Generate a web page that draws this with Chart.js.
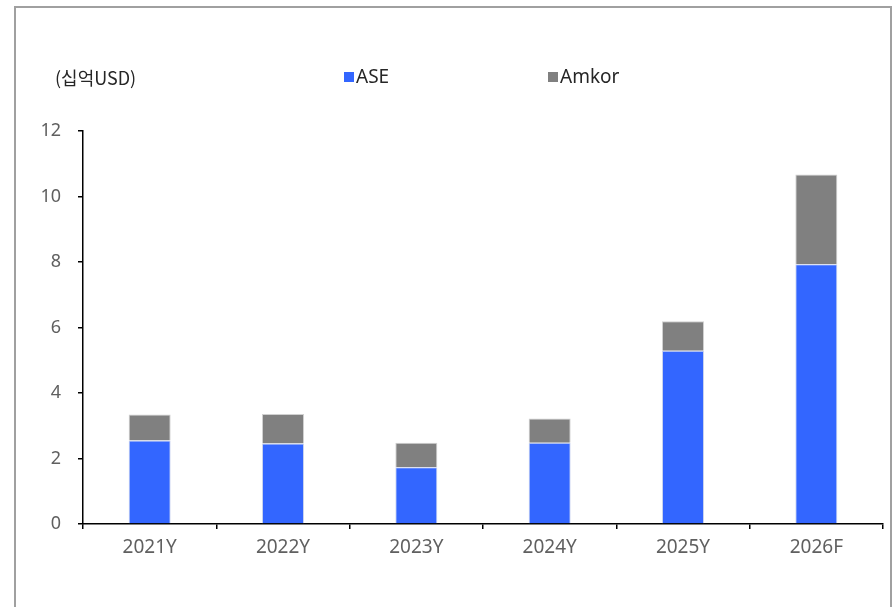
<!DOCTYPE html>
<html>
<head>
<meta charset="utf-8">
<script src="https://cdn.jsdelivr.net/npm/chart.js@4.4.1/dist/chart.umd.min.js"></script>
<style>
    html, body { margin: 0; padding: 0; background: #fff; overflow: hidden; }
    #frame {
        position: absolute; left: 14px; top: 6px; width: 874px; height: 620px;
        border: 2px solid #a0a0a0;
    }
    #wrap { position: absolute; left: 0; top: 0; width: 892px; height: 607px; }
</style>
</head>
<body>
<div id="frame"></div>
<div id="wrap"><canvas id="chart"></canvas></div>
<script>
    const categories = ['2021Y', '2022Y', '2023Y', '2024Y', '2025Y', '2026F'];
    const aseValues = [2.55, 2.46, 1.73, 2.48, 5.29, 7.93];
    const amkorValues = [0.79, 0.90, 0.75, 0.74, 0.90, 2.74];
    const unitLabel = '(십억USD)';
    const seriesNames = ['ASE', 'Amkor'];
    const seriesColors = ['#3366ff', '#808080'];

    const fontFamily = '"Noto Sans", "Noto Sans CJK KR", sans-serif';
    const tickColor = '#606060';

    // unit label and legend on the top row
    const headerPlugin = {
        id: 'header',
        afterDraw: function (chart) {
            const ctx = chart.ctx;
            ctx.save();
            ctx.textBaseline = 'middle';
            ctx.fillStyle = '#262626';
            ctx.font = '18px "Noto Sans CJK KR", sans-serif';
            ctx.fillText(unitLabel, 55, 78);
            ctx.font = '19px ' + fontFamily;
            const xs = [344, 548];
            chart.data.datasets.forEach(function (ds, i) {
                ctx.fillStyle = ds.backgroundColor;
                ctx.fillRect(xs[i], 72, 10, 10);
                ctx.fillStyle = '#262626';
                ctx.fillText(ds.label, xs[i] + 12, 78);
            });
            ctx.restore();
        }
    };

    new Chart(document.getElementById('chart').getContext('2d'), {
        type: 'bar',
        data: {
            labels: categories,
            datasets: [
                {
                    label: seriesNames[0],
                    data: aseValues,
                    backgroundColor: seriesColors[0],
                    borderColor: '#c8d2ee',
                    borderWidth: 1,
                    barPercentage: 0.315,
                    categoryPercentage: 1
                },
                {
                    label: seriesNames[1],
                    data: amkorValues,
                    backgroundColor: seriesColors[1],
                    borderColor: '#d0d0d0',
                    borderWidth: 1,
                    barPercentage: 0.315,
                    categoryPercentage: 1
                }
            ]
        },
        options: {
            responsive: true,
            maintainAspectRatio: false,
            animation: false,
            layout: { padding: { left: 0, right: 9, top: 131, bottom: 0 } },
            plugins: {
                legend: { display: false },
                tooltip: { enabled: false }
            },
            scales: {
                x: {
                    stacked: true,
                    afterFit: function (s) { s.height = 83; },
                    border: { color: '#000', width: 1.5 },
                    grid: { drawOnChartArea: false, drawTicks: true, tickLength: 5, color: '#000', lineWidth: 1.5 },
                    ticks: { color: tickColor, padding: 7, font: { family: fontFamily, size: 19 } }
                },
                y: {
                    stacked: true,
                    min: 0,
                    max: 12,
                    afterFit: function (s) { s.width = 83; },
                    border: { color: '#000', width: 1.5 },
                    grid: { drawOnChartArea: false, drawTicks: true, tickLength: 5, color: '#000', lineWidth: 1.5 },
                    ticks: { stepSize: 2, color: tickColor, padding: 17, font: { family: fontFamily, size: 18 } }
                }
            }
        },
        plugins: [headerPlugin]
    });
</script>
</body>
</html>
